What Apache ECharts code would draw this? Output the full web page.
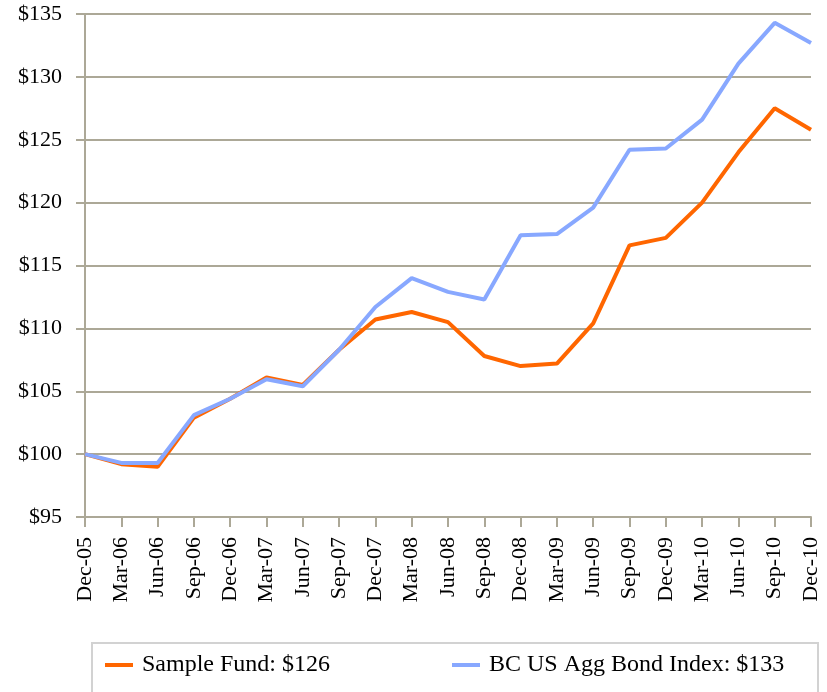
<!DOCTYPE html>
<html>
<head>
<meta charset="utf-8">
<style>
  html, body { margin: 0; padding: 0; background: #ffffff; }
  #chart { width: 827px; height: 692px; }
</style>
<script src="https://cdn.jsdelivr.net/npm/echarts@6/dist/echarts.min.js"></script>
</head>
<body>
<div id="chart"></div>
<script>
// Quarter-end dates
const quarters = ['Dec-05','Mar-06','Jun-06','Sep-06','Dec-06','Mar-07','Jun-07','Sep-07',
  'Dec-07','Mar-08','Jun-08','Sep-08','Dec-08','Mar-09','Jun-09','Sep-09','Dec-09',
  'Mar-10','Jun-10','Sep-10','Dec-10'];

// Growth of $100
const fundValues = [100.0, 99.2, 99.0, 102.9, 104.4, 106.1, 105.5, 108.3, 110.7, 111.3,
  110.5, 107.8, 107.0, 107.2, 110.4, 116.6, 117.2, 120.0, 124.0, 127.5, 125.8];
const indexValues = [100.0, 99.3, 99.3, 103.1, 104.4, 105.95, 105.4, 108.3, 111.7, 114.0,
  112.9, 112.3, 117.4, 117.5, 119.6, 124.2, 124.3, 126.6, 131.05, 134.3, 132.7];

const fundName = 'Sample Fund';
const indexName = 'BC US Agg Bond Index';

const yMin = 95, yMax = 135, yStep = 5;

const serif = '"Liberation Serif", "Times New Roman", serif';
const gridColor = '#aca897';

const lastValue = { [fundName]: fundValues[fundValues.length - 1], [indexName]: indexValues[indexValues.length - 1] };
const legendText = name => name + ': $' + Math.round(lastValue[name]);

const chart = echarts.init(document.getElementById('chart'), null, { renderer: 'canvas' });

const legendCommon = {
  top: 653,
  icon: 'rect',
  itemWidth: 28,
  itemHeight: 4,
  itemGap: 10,
  padding: 0,
  formatter: legendText,
  textStyle: { fontFamily: serif, fontSize: 24, color: '#000', padding: [0, 0, 0, 4] },
  selectedMode: false
};

chart.setOption({
  animation: false,
  backgroundColor: '#ffffff',
  grid: { left: 85, right: 16, top: 14, bottom: 175, containLabel: false },
  graphic: [{
    type: 'rect',
    shape: { x: 92, y: 643, width: 726, height: 80 },
    style: { fill: 'none', stroke: '#d2d2d2', lineWidth: 2 },
    silent: true
  }],
  legend: [
    Object.assign({}, legendCommon, { left: 105, data: [fundName] }),
    Object.assign({}, legendCommon, { left: 452, data: [indexName] })
  ],
  xAxis: {
    type: 'category',
    data: quarters,
    boundaryGap: false,
    axisLine: { lineStyle: { color: gridColor, width: 2 } },
    axisTick: { show: true, length: 10, alignWithLabel: true, interval: 0, lineStyle: { color: gridColor, width: 2 } },
    axisLabel: { interval: 0, rotate: 90, margin: 20, fontFamily: serif, fontSize: 22, color: '#000' },
    splitLine: { show: false }
  },
  yAxis: {
    type: 'value',
    min: yMin,
    max: yMax,
    interval: yStep,
    axisLine: { show: true, lineStyle: { color: gridColor, width: 2 } },
    axisTick: { show: true, length: 9, lineStyle: { color: gridColor, width: 2 } },
    axisLabel: { margin: 23, fontFamily: serif, fontSize: 22, color: '#000', formatter: v => '$' + v },
    splitLine: { show: true, lineStyle: { color: gridColor, width: 2 } }
  },
  series: [
    {
      name: fundName,
      type: 'line',
      data: fundValues,
      symbol: 'none',
      color: '#ff6600',
      lineStyle: { color: '#ff6600', width: 4 }
    },
    {
      name: indexName,
      type: 'line',
      data: indexValues,
      symbol: 'none',
      color: '#88a8ff',
      lineStyle: { color: '#88a8ff', width: 4 }
    }
  ]
});
</script>
</body>
</html>
